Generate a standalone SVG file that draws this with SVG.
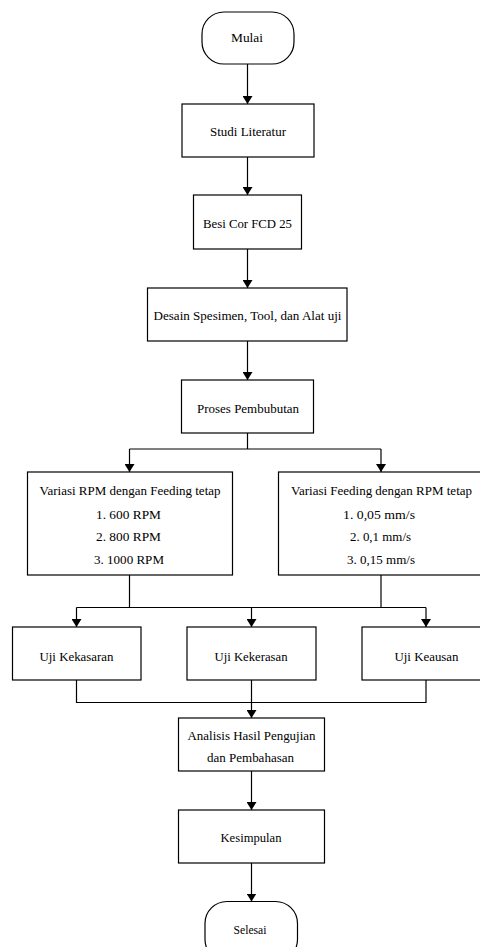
<svg xmlns="http://www.w3.org/2000/svg" width="480" height="947" viewBox="0 0 480 947">
<style>
.b{fill:#fff;stroke:#000;stroke-width:1.2}
.c{fill:none;stroke:#000;stroke-width:1.2}
text{font-family:"Liberation Serif","Times New Roman",serif;font-size:13.5px;fill:#000;text-anchor:middle}
</style>
<defs>
<marker id="ah" viewBox="0 0 8 10" refX="8" refY="5" markerWidth="8" markerHeight="10" markerUnits="userSpaceOnUse" orient="auto">
<path d="M0,0 L8,5 L0,10 Z" fill="#000"/>
</marker>
</defs>
<g id="connectors">
<path class="c" d="M247.5,64 V104" marker-end="url(#ah)"/>
<path class="c" d="M247.5,157 V195" marker-end="url(#ah)"/>
<path class="c" d="M247.5,249 V288" marker-end="url(#ah)"/>
<path class="c" d="M247.5,341 V380" marker-end="url(#ah)"/>
<path class="c" d="M247.5,433 V449"/>
<path class="c" d="M129.5,449 H381"/>
<path class="c" d="M129.5,449 V472" marker-end="url(#ah)"/>
<path class="c" d="M381,449 V472" marker-end="url(#ah)"/>
<path class="c" d="M129.5,575 V607.5"/>
<path class="c" d="M381,575 V607.5"/>
<path class="c" d="M76.5,607.5 H426"/>
<path class="c" d="M76.5,607.5 V627" marker-end="url(#ah)"/>
<path class="c" d="M251.5,607.5 V627" marker-end="url(#ah)"/>
<path class="c" d="M426,607.5 V627" marker-end="url(#ah)"/>
<path class="c" d="M76.5,680 V702.5 H426 V680"/>
<path class="c" d="M251.5,680 V718" marker-end="url(#ah)"/>
<path class="c" d="M251.5,771 V810" marker-end="url(#ah)"/>
<path class="c" d="M251.5,863 V901.5" marker-end="url(#ah)"/>
</g>
<g id="mulai"><rect class="b" x="202" y="12" width="92" height="52" rx="22" ry="22"/><text x="247" y="42" textLength="32" lengthAdjust="spacingAndGlyphs">Mulai</text></g>
<g id="studi"><rect class="b" x="182" y="104" width="132" height="53"/><text x="248" y="136" textLength="76" lengthAdjust="spacingAndGlyphs">Studi Literatur</text></g>
<g id="besi"><rect class="b" x="193.5" y="195" width="108" height="54"/><text x="247.5" y="228" textLength="89" lengthAdjust="spacingAndGlyphs">Besi Cor FCD 25</text></g>
<g id="desain"><rect class="b" x="147.5" y="288" width="199.5" height="53"/><text x="247.5" y="319.5" textLength="188" lengthAdjust="spacingAndGlyphs">Desain Spesimen, Tool, dan Alat uji</text></g>
<g id="proses"><rect class="b" x="181.5" y="380" width="132" height="53"/><text x="248" y="412.5" textLength="102" lengthAdjust="spacingAndGlyphs">Proses Pembubutan</text></g>
<g id="variasi-rpm"><rect class="b" x="27.5" y="472" width="205" height="103"/>
<text x="130" y="495" textLength="181" lengthAdjust="spacingAndGlyphs">Variasi RPM dengan Feeding tetap</text>
<text x="128.5" y="518.5" textLength="65" lengthAdjust="spacingAndGlyphs">1. 600 RPM</text>
<text x="128.5" y="541" textLength="65" lengthAdjust="spacingAndGlyphs">2. 800 RPM</text>
<text x="129" y="563.5" textLength="70" lengthAdjust="spacingAndGlyphs">3. 1000 RPM</text></g>
<g id="variasi-feeding"><rect class="b" x="278.5" y="472" width="206" height="103"/>
<text x="381.5" y="495" textLength="181" lengthAdjust="spacingAndGlyphs">Variasi Feeding dengan RPM tetap</text>
<text x="379" y="518.5" textLength="72" lengthAdjust="spacingAndGlyphs">1. 0,05 mm/s</text>
<text x="380.5" y="541" textLength="61" lengthAdjust="spacingAndGlyphs">2. 0,1 mm/s</text>
<text x="381" y="563.5" textLength="68" lengthAdjust="spacingAndGlyphs">3. 0,15 mm/s</text></g>
<g id="uji-kekasaran"><rect class="b" x="12.5" y="627" width="128.5" height="53"/><text x="76.5" y="660.5" textLength="74" lengthAdjust="spacingAndGlyphs">Uji Kekasaran</text></g>
<g id="uji-kekerasan"><rect class="b" x="187" y="627" width="129" height="53"/><text x="251" y="660.5" textLength="73" lengthAdjust="spacingAndGlyphs">Uji Kekerasan</text></g>
<g id="uji-keausan"><rect class="b" x="362" y="627" width="128" height="53"/><text x="426.5" y="660.5" textLength="64" lengthAdjust="spacingAndGlyphs">Uji Keausan</text></g>
<g id="analisis"><rect class="b" x="178.5" y="718" width="146" height="53"/>
<text x="251.5" y="739.5" textLength="128" lengthAdjust="spacingAndGlyphs">Analisis Hasil Pengujian</text>
<text x="250.5" y="762" textLength="87" lengthAdjust="spacingAndGlyphs">dan Pembahasan</text></g>
<g id="kesimpulan"><rect class="b" x="178.5" y="810" width="146" height="53"/><text x="251" y="842" textLength="61" lengthAdjust="spacingAndGlyphs">Kesimpulan</text></g>
<g id="selesai"><rect class="b" x="205" y="901.5" width="92.5" height="60" rx="22" ry="22"/><text x="250" y="934" textLength="33" lengthAdjust="spacingAndGlyphs">Selesai</text></g>
</svg>
